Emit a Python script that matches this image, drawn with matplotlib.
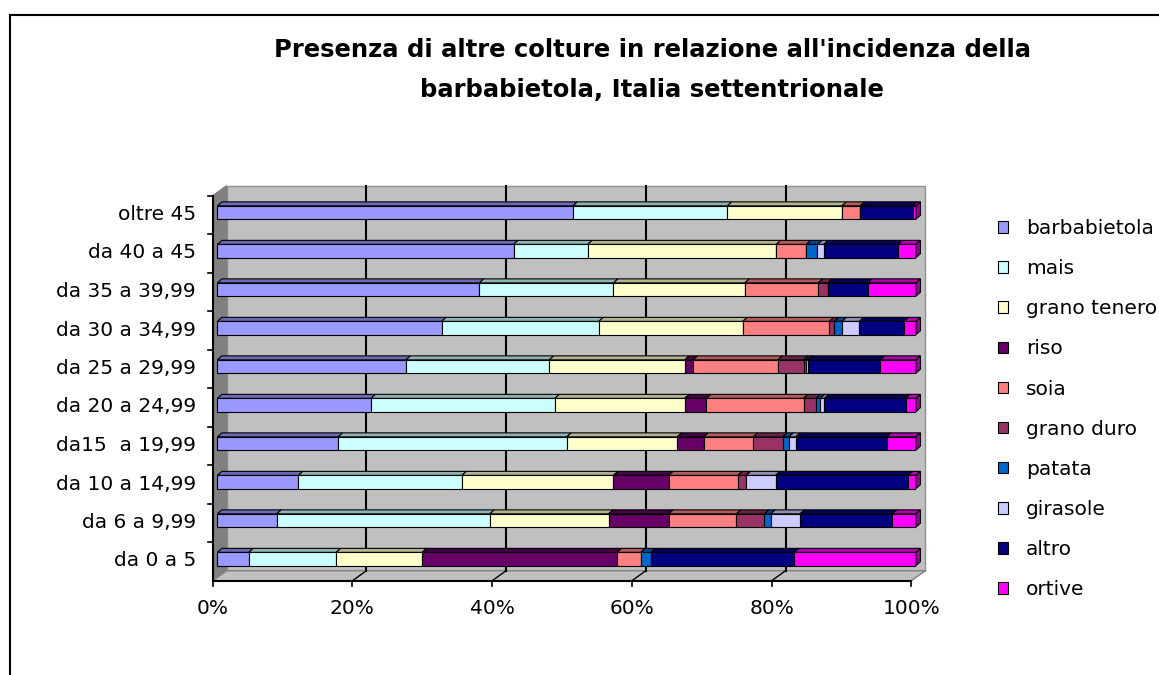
import numpy as np
import matplotlib.pyplot as plt
from matplotlib.patches import Polygon
from matplotlib.lines import Line2D
from matplotlib.colors import to_rgb

# categories, bottom to top
categories = ['da 0 a 5', 'da 6 a 9,99', 'da 10 a 14,99', 'da15  a 19,99',
              'da 20 a 24,99', 'da 25 a 29,99', 'da 30 a 34,99',
              'da 35 a 39,99', 'da 40 a 45', 'oltre 45']

# share of each crop (%), same order as categories
barbabietola = [4.5, 8.5, 11.6, 17.3, 22.0, 27.0, 32.1, 37.5, 42.4, 50.9]
mais         = [12.5, 30.5, 23.4, 32.7, 26.3, 20.5, 22.5, 19.2, 10.6, 22.1]
grano_tenero = [12.3, 17.0, 21.7, 15.8, 18.6, 19.4, 20.6, 18.8, 27.0, 16.4]
riso         = [27.9, 8.6, 7.9, 3.8, 3.1, 1.2, 0.0, 0.0, 0.0, 0.0]
soia         = [3.4, 9.7, 9.9, 7.1, 13.9, 12.1, 12.4, 10.5, 4.3, 2.6]
grano_duro   = [0.0, 4.0, 1.2, 4.2, 1.8, 3.7, 0.7, 1.4, 0.0, 0.0]
patata       = [1.5, 0.9, 0.0, 0.9, 0.6, 0.4, 1.1, 0.0, 1.6, 0.0]
girasole     = [0.0, 4.2, 4.2, 1.0, 0.6, 0.3, 2.5, 0.0, 0.9, 0.0]
altro        = [20.5, 13.2, 19.0, 13.0, 11.6, 10.3, 6.4, 5.7, 10.6, 7.5]
ortive       = [17.4, 3.4, 1.1, 4.2, 1.5, 5.1, 1.7, 6.9, 2.6, 0.5]

series_names = ['barbabietola', 'mais', 'grano tenero', 'riso', 'soia',
                'grano duro', 'patata', 'girasole', 'altro', 'ortive']
series_values = [barbabietola, mais, grano_tenero, riso, soia,
                 grano_duro, patata, girasole, altro, ortive]
series_colors = ['#9999FF', '#CCFFFF', '#FFFFCC', '#660066', '#FF8080',
                 '#993366', '#0066CC', '#CCCCFF', '#000080', '#FF00FF']

x_ticks = [0, 0.2, 0.4, 0.6, 0.8, 1.0]
x_ticklabels = ['0%', '20%', '40%', '60%', '80%', '100%']

title_1 = "Presenza di altre colture in relazione all'incidenza della"
title_2 = "barbabietola, Italia settentrionale"

W, H = 1159, 675
FONT = 14.5
plt.rcParams['font.family'] = ['DejaVu Sans']


def darker(c, f=0.7):
    return tuple(np.array(to_rgb(c)) * f)


def main():
    fig = plt.figure(figsize=(W / 100, H / 100), dpi=100)
    # axes = plane of the bar front faces
    ax_l, ax_r, ax_t, ax_b = 212.7, 916.0, 193.25, 578.25
    ax = fig.add_axes([ax_l / W, 1 - ax_b / H, (ax_r - ax_l) / W, (ax_b - ax_t) / H])
    y_lo, y_hi = -0.5, len(categories) - 0.5
    ax.set_xlim(0, 1)
    ax.set_ylim(y_lo, y_hi)
    for s in ax.spines.values():
        s.set_visible(False)

    px_x = ax_r - ax_l
    px_y = (ax_b - ax_t) / (y_hi - y_lo)

    def off(px, py):
        return px / px_x, py / px_y

    front = off(-4.7, -2.5)
    back = off(9.3, 7.5)
    depth = off(4.5, 4.0)

    def sh(p, o):
        return (p[0] + o[0], p[1] + o[1])

    # 3d box: back wall, side wall, floor
    wall = [sh(p, back) for p in [(0, y_lo), (1, y_lo), (1, y_hi), (0, y_hi)]]
    ax.add_patch(Polygon(wall, fc='#C0C0C0', ec='#909090', lw=1, clip_on=False, zorder=0))
    side = [sh((0, y_lo), front), sh((0, y_hi), front), sh((0, y_hi), back), sh((0, y_lo), back)]
    ax.add_patch(Polygon(side, fc='#808080', ec='#808080', lw=1, clip_on=False, zorder=0))
    floor = [sh((0, y_lo), front), sh((1, y_lo), front), sh((1, y_lo), back), sh((0, y_lo), back)]
    ax.add_patch(Polygon(floor, fc='#C0C0C0', ec='#808080', lw=1, clip_on=False, zorder=0))

    # gridlines on wall and floor
    for g in x_ticks[1:-1]:
        b0, b1, f0 = sh((g, y_lo), back), sh((g, y_hi), back), sh((g, y_lo), front)
        ax.plot([b0[0], b1[0]], [b0[1], b1[1]], color='black', lw=1.5, clip_on=False, zorder=1)
        ax.plot([b0[0], f0[0]], [b0[1], f0[1]], color='black', lw=1.0, clip_on=False, zorder=1)

    # front axis lines and ticks
    p0, p1, p2 = sh((0, y_lo), front), sh((0, y_hi), front), sh((1, y_lo), front)
    ax.plot([p0[0], p1[0]], [p0[1], p1[1]], color='black', lw=1.5, clip_on=False, zorder=1)
    ax.plot([p0[0], p2[0]], [p0[1], p2[1]], color='black', lw=1.5, clip_on=False, zorder=1)
    tx, ty = off(5, 5)
    for g in x_ticks:
        q = sh((g, y_lo), front)
        ax.plot([q[0], q[0]], [q[1], q[1] - ty], color='black', lw=1.2, clip_on=False)
    for k in range(len(categories)):
        q = sh((0, k + 0.5), front)
        ax.plot([q[0], q[0] - tx], [q[1], q[1]], color='black', lw=1.2, clip_on=False)

    # stacked 100% bars
    vals = np.array(series_values, dtype=float)
    shares = vals / vals.sum(axis=0)
    y = np.arange(len(categories))
    h = 0.345
    left = np.zeros(len(categories))
    for name, w, c in zip(series_names, shares, series_colors):
        ax.barh(y, w, left=left, height=h, color=c, edgecolor='black',
                linewidth=0.8, label=name, zorder=3)
        for yi, li, wi in zip(y, left, w):
            if wi <= 0:
                continue
            top = [(li, yi + h / 2), (li + wi, yi + h / 2),
                   (li + wi + depth[0], yi + h / 2 + depth[1]),
                   (li + depth[0], yi + h / 2 + depth[1])]
            ax.add_patch(Polygon(top, fc=darker(c), ec='black', lw=0.8,
                                 clip_on=False, zorder=3))
        left = left + w
    # right end faces
    for yi in y:
        end = [(1, yi - h / 2), (1 + depth[0], yi - h / 2 + depth[1]),
               (1 + depth[0], yi + h / 2 + depth[1]), (1, yi + h / 2)]
        ax.add_patch(Polygon(end, fc=darker(series_colors[-1], 0.6), ec='black',
                             lw=0.8, clip_on=False, zorder=3))

    ax.set_yticks(y)
    ax.set_yticklabels(categories, fontsize=FONT)
    ax.set_xticks(np.array(x_ticks) + front[0])
    ax.set_xticklabels(x_ticklabels, fontsize=FONT)
    ax.tick_params(axis='y', length=0, pad=12)
    ax.tick_params(axis='x', length=0, pad=15)

    fig.legend(loc='upper left', bbox_to_anchor=(998 / W, 1 - 219 / H),
               frameon=False, fontsize=FONT, handlelength=0.5, handleheight=0.5,
               handletextpad=0.9, labelspacing=1.05, borderpad=0, borderaxespad=0)

    fig.text(652 / W, 1 - 50 / H, title_1, ha='center', va='center',
             fontsize=17.5, fontweight='bold')
    fig.text(652 / W, 1 - 90 / H, title_2, ha='center', va='center',
             fontsize=17.5, fontweight='bold')

    # chart border (top and left edges visible)
    fig.add_artist(Line2D([10 / W, 1], [1 - 15 / H, 1 - 15 / H], color='black', lw=1.5))
    fig.add_artist(Line2D([10 / W, 10 / W], [0, 1 - 15 / H], color='black', lw=1.5))

    fig.savefig('out.png', dpi=100)
    plt.close(fig)


if __name__ == '__main__':
    main()
